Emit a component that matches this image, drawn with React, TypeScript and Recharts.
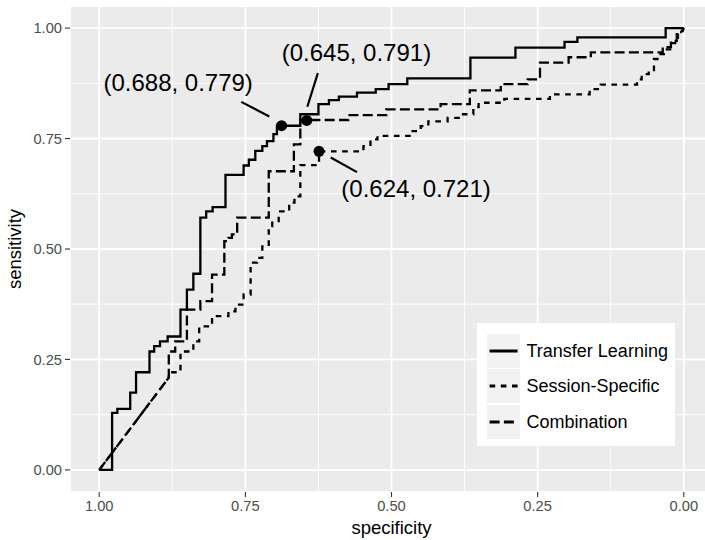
import React from 'react';
import {
  LineChart,
  Line,
  XAxis,
  YAxis,
  CartesianGrid,
  ReferenceLine,
  ReferenceDot,
  Legend,
} from 'recharts';

type Pt = { spec: number; sens: number };
const P = (spec: number, sens: number): Pt => ({ spec, sens });

const seriesNames = ['Transfer Learning', 'Session-Specific', 'Combination'];
const seriesDashes = ['', '5.6 5.6', '10 4.3'];

const axisTicks = [0, 0.25, 0.5, 0.75, 1];
const minorTicks = [0.125, 0.375, 0.625, 0.875];

const transferLearning: Pt[] = [
  P(1.0, 0.0), P(0.978, 0.0), P(0.978, 0.129), P(0.969, 0.129), P(0.969, 0.138),
  P(0.947, 0.138), P(0.947, 0.175), P(0.937, 0.175), P(0.937, 0.221), P(0.914, 0.221),
  P(0.914, 0.268), P(0.906, 0.268), P(0.906, 0.28), P(0.896, 0.28), P(0.896, 0.291),
  P(0.883, 0.291), P(0.883, 0.302), P(0.861, 0.302), P(0.861, 0.363), P(0.85, 0.363),
  P(0.85, 0.408), P(0.839, 0.408), P(0.839, 0.444), P(0.827, 0.444), P(0.827, 0.571),
  P(0.817, 0.571), P(0.817, 0.585), P(0.806, 0.585), P(0.806, 0.595), P(0.784, 0.595),
  P(0.784, 0.668), P(0.753, 0.668), P(0.753, 0.689), P(0.744, 0.689), P(0.744, 0.702),
  P(0.733, 0.702), P(0.733, 0.722), P(0.721, 0.722), P(0.721, 0.733), P(0.713, 0.733),
  P(0.713, 0.744), P(0.702, 0.744), P(0.702, 0.76), P(0.696, 0.76), P(0.696, 0.779),
  P(0.656, 0.779), P(0.656, 0.805), P(0.625, 0.805), P(0.625, 0.828), P(0.607, 0.828),
  P(0.607, 0.837), P(0.59, 0.837), P(0.59, 0.845), P(0.559, 0.845), P(0.559, 0.854),
  P(0.527, 0.854), P(0.527, 0.862), P(0.505, 0.862), P(0.505, 0.873), P(0.473, 0.873),
  P(0.473, 0.886), P(0.365, 0.886), P(0.365, 0.933), P(0.288, 0.933), P(0.288, 0.956),
  P(0.204, 0.956), P(0.204, 0.969), P(0.182, 0.969), P(0.182, 0.979), P(0.031, 0.979),
  P(0.031, 1.0), P(0.0, 1.0),
];

const sessionSpecific: Pt[] = [
  P(1.0, 0.0), P(0.881, 0.209), P(0.881, 0.221), P(0.861, 0.221), P(0.861, 0.268),
  P(0.839, 0.268), P(0.839, 0.291), P(0.829, 0.291), P(0.829, 0.325), P(0.807, 0.325),
  P(0.807, 0.348), P(0.779, 0.348), P(0.779, 0.359), P(0.767, 0.359), P(0.767, 0.374),
  P(0.753, 0.374), P(0.753, 0.397), P(0.741, 0.397), P(0.741, 0.469), P(0.73, 0.469),
  P(0.73, 0.48), P(0.721, 0.48), P(0.721, 0.506), P(0.71, 0.506), P(0.71, 0.552),
  P(0.704, 0.552), P(0.704, 0.563), P(0.693, 0.563), P(0.693, 0.585), P(0.675, 0.585),
  P(0.675, 0.605), P(0.666, 0.605), P(0.666, 0.619), P(0.656, 0.619), P(0.656, 0.69),
  P(0.624, 0.69), P(0.624, 0.721), P(0.548, 0.721), P(0.548, 0.733), P(0.536, 0.733),
  P(0.536, 0.748), P(0.524, 0.748), P(0.524, 0.756), P(0.466, 0.756), P(0.466, 0.767),
  P(0.45, 0.767), P(0.45, 0.778), P(0.437, 0.778), P(0.437, 0.789), P(0.404, 0.789),
  P(0.404, 0.797), P(0.385, 0.797), P(0.385, 0.805), P(0.36, 0.805), P(0.36, 0.821),
  P(0.351, 0.821), P(0.351, 0.831), P(0.307, 0.831), P(0.307, 0.84), P(0.229, 0.84),
  P(0.229, 0.85), P(0.161, 0.85), P(0.161, 0.862), P(0.142, 0.862), P(0.142, 0.872),
  P(0.08, 0.872), P(0.08, 0.884), P(0.072, 0.884), P(0.072, 0.896), P(0.06, 0.896),
  P(0.06, 0.905), P(0.051, 0.905), P(0.051, 0.93), P(0.043, 0.93), P(0.043, 0.941),
  P(0.031, 0.941), P(0.031, 0.952), P(0.021, 0.952), P(0.021, 0.966), P(0.01, 0.966),
  P(0.01, 0.989), P(0.003, 0.989), P(0.0, 1.0),
];

const combination: Pt[] = [
  P(1.0, 0.0), P(0.881, 0.209), P(0.881, 0.268), P(0.87, 0.268), P(0.87, 0.291),
  P(0.85, 0.291), P(0.85, 0.363), P(0.827, 0.363), P(0.827, 0.382), P(0.807, 0.382),
  P(0.807, 0.442), P(0.786, 0.442), P(0.786, 0.518), P(0.779, 0.518), P(0.779, 0.525),
  P(0.773, 0.525), P(0.773, 0.533), P(0.764, 0.533), P(0.764, 0.571), P(0.71, 0.571),
  P(0.71, 0.676), P(0.667, 0.676), P(0.667, 0.737), P(0.656, 0.737), P(0.656, 0.792),
  P(0.574, 0.792), P(0.574, 0.803), P(0.509, 0.803), P(0.509, 0.816), P(0.416, 0.816),
  P(0.416, 0.828), P(0.366, 0.828), P(0.366, 0.859), P(0.313, 0.859), P(0.313, 0.873),
  P(0.267, 0.873), P(0.267, 0.884), P(0.246, 0.884), P(0.246, 0.922), P(0.197, 0.922),
  P(0.197, 0.934), P(0.159, 0.934), P(0.159, 0.945), P(0.036, 0.945), P(0.036, 0.957),
  P(0.022, 0.957), P(0.022, 0.971), P(0.012, 0.971), P(0.012, 0.991), P(0.005, 0.991),
  P(0.0, 1.0),
];

const seriesData = [transferLearning, sessionSpecific, combination];

// marked operating points
const markedPoints: Pt[] = [P(0.688, 0.779), P(0.645, 0.791), P(0.624, 0.721)];
const markLabels = ['(0.688, 0.779)', '(0.645, 0.791)', '(0.624, 0.721)'];
const labelAnchors: Pt[] = [P(0.865, 0.858), P(0.56, 0.925), P(0.458, 0.617)];
const leaderStarts: Pt[] = [P(0.757, 0.833), P(0.626, 0.898), P(0.604, 0.707)];
const leaderEnds: Pt[] = [P(0.709, 0.8), P(0.644, 0.822), P(0.559, 0.674)];

const FONT = '"Liberation Sans", Arial, Helvetica, sans-serif';

const renderLegend = () => (
  <div
    style={{
      background: '#ffffff',
      width: 198,
      height: 123,
      boxSizing: 'border-box',
      paddingTop: 10.5,
      paddingLeft: 9.5,
      fontFamily: FONT,
    }}
  >
    {seriesNames.map((name, i) => (
      <div
        key={name}
        style={{ display: 'flex', alignItems: 'center', height: 34.5, marginBottom: 1 }}
      >
        <svg width={33.5} height={34} style={{ display: 'block' }}>
          <rect x={0} y={0} width={33.5} height={34} fill="#f2f2f2" />
          <line
            x1={2.6}
            x2={30.6}
            y1={17}
            y2={17}
            stroke="#000"
            strokeWidth={3}
            strokeDasharray={seriesDashes[i] || undefined}
          />
        </svg>
        <span style={{ marginLeft: 6.5, fontSize: 18, color: '#000', lineHeight: '20px' }}>
          {name}
        </span>
      </div>
    ))}
  </div>
);

const fmt = (v: number) => v.toFixed(2);

export default function App() {
  return (
    <div
      style={{
        position: 'absolute',
        left: 0,
        top: 0,
        width: 705,
        height: 540,
        overflow: 'hidden',
        background: '#ffffff',
      }}
    >
      <LineChart width={713} height={540} margin={{ top: 6, right: 0, bottom: 0, left: 0 }}>
        <CartesianGrid fill="#ebebeb" stroke="#ffffff" strokeWidth={1.8} />
        {minorTicks.map((t) => (
          <ReferenceLine key={'mx' + t} x={t} stroke="#ffffff" strokeWidth={0.9} />
        ))}
        {minorTicks.map((t) => (
          <ReferenceLine key={'my' + t} y={t} stroke="#ffffff" strokeWidth={0.9} />
        ))}
        <XAxis
          dataKey="spec"
          type="number"
          domain={[-0.05, 1.05]}
          reversed
          ticks={axisTicks}
          interval={0}
          tickFormatter={fmt}
          height={48}
          axisLine={false}
          tickLine={{ stroke: '#333333', strokeWidth: 1.1 }}
          tickSize={5}
          tickMargin={4}
          tick={{ fill: '#4d4d4d', fontSize: 14.7, fontFamily: FONT }}
          label={{
            value: 'specificity',
            position: 'insideBottom',
            offset: 6,
            fill: '#000',
            fontSize: 18.5,
            fontFamily: FONT,
          }}
        />
        <YAxis
          dataKey="sens"
          type="number"
          domain={[-0.05, 1.05]}
          ticks={axisTicks}
          interval={0}
          tickFormatter={fmt}
          width={70}
          axisLine={false}
          tickLine={{ stroke: '#333333', strokeWidth: 1.1 }}
          tickSize={5}
          tickMargin={3}
          tick={{ fill: '#4d4d4d', fontSize: 14.7, fontFamily: FONT }}
          label={{
            content: (props: any) => {
              const vb = props.viewBox || { x: 0, y: 6, width: 70, height: 486 };
              const cy = vb.y + vb.height / 2;
              const bx = 20.5;
              return (
                <text
                  x={bx}
                  y={cy}
                  transform={`rotate(-90, ${bx}, ${cy})`}
                  textAnchor="middle"
                  fill="#000"
                  fontSize={18.5}
                  fontFamily={FONT}
                >
                  sensitivity
                </text>
              );
            },
          }}
        />
        {seriesData.map((d, i) => (
          <Line
            key={seriesNames[i]}
            name={seriesNames[i]}
            data={d}
            dataKey="sens"
            type="linear"
            stroke="#000000"
            strokeWidth={2.3}
            strokeDasharray={seriesDashes[i] || undefined}
            dot={false}
            activeDot={false}
            isAnimationActive={false}
          />
        ))}
        {markedPoints.map((p, i) => (
          <ReferenceLine
            key={'lead' + i}
            segment={[
              { x: leaderStarts[i].spec, y: leaderStarts[i].sens },
              { x: leaderEnds[i].spec, y: leaderEnds[i].sens },
            ]}
            stroke="#000"
            strokeWidth={2.2}
          />
        ))}
        {markedPoints.map((p, i) => (
          <ReferenceDot
            key={'dot' + i}
            x={p.spec}
            y={p.sens}
            r={5.5}
            fill="#000"
            stroke="none"
          />
        ))}
        {labelAnchors.map((p, i) => (
          <ReferenceDot
            key={'lab' + i}
            x={p.spec}
            y={p.sens}
            r={1}
            shape={(props: any) => (
              <text
                x={props.cx}
                y={props.cy}
                textAnchor="middle"
                fill="#000"
                fontSize={24}
                fontFamily={FONT}
              >
                {markLabels[i]}
              </text>
            )}
          />
        ))}
        <Legend
          layout="horizontal"
          verticalAlign="middle"
          align="center"
          wrapperStyle={{ left: 477, top: 323, width: 198, height: 123 }}
          content={renderLegend}
        />
      </LineChart>
    </div>
  );
}
